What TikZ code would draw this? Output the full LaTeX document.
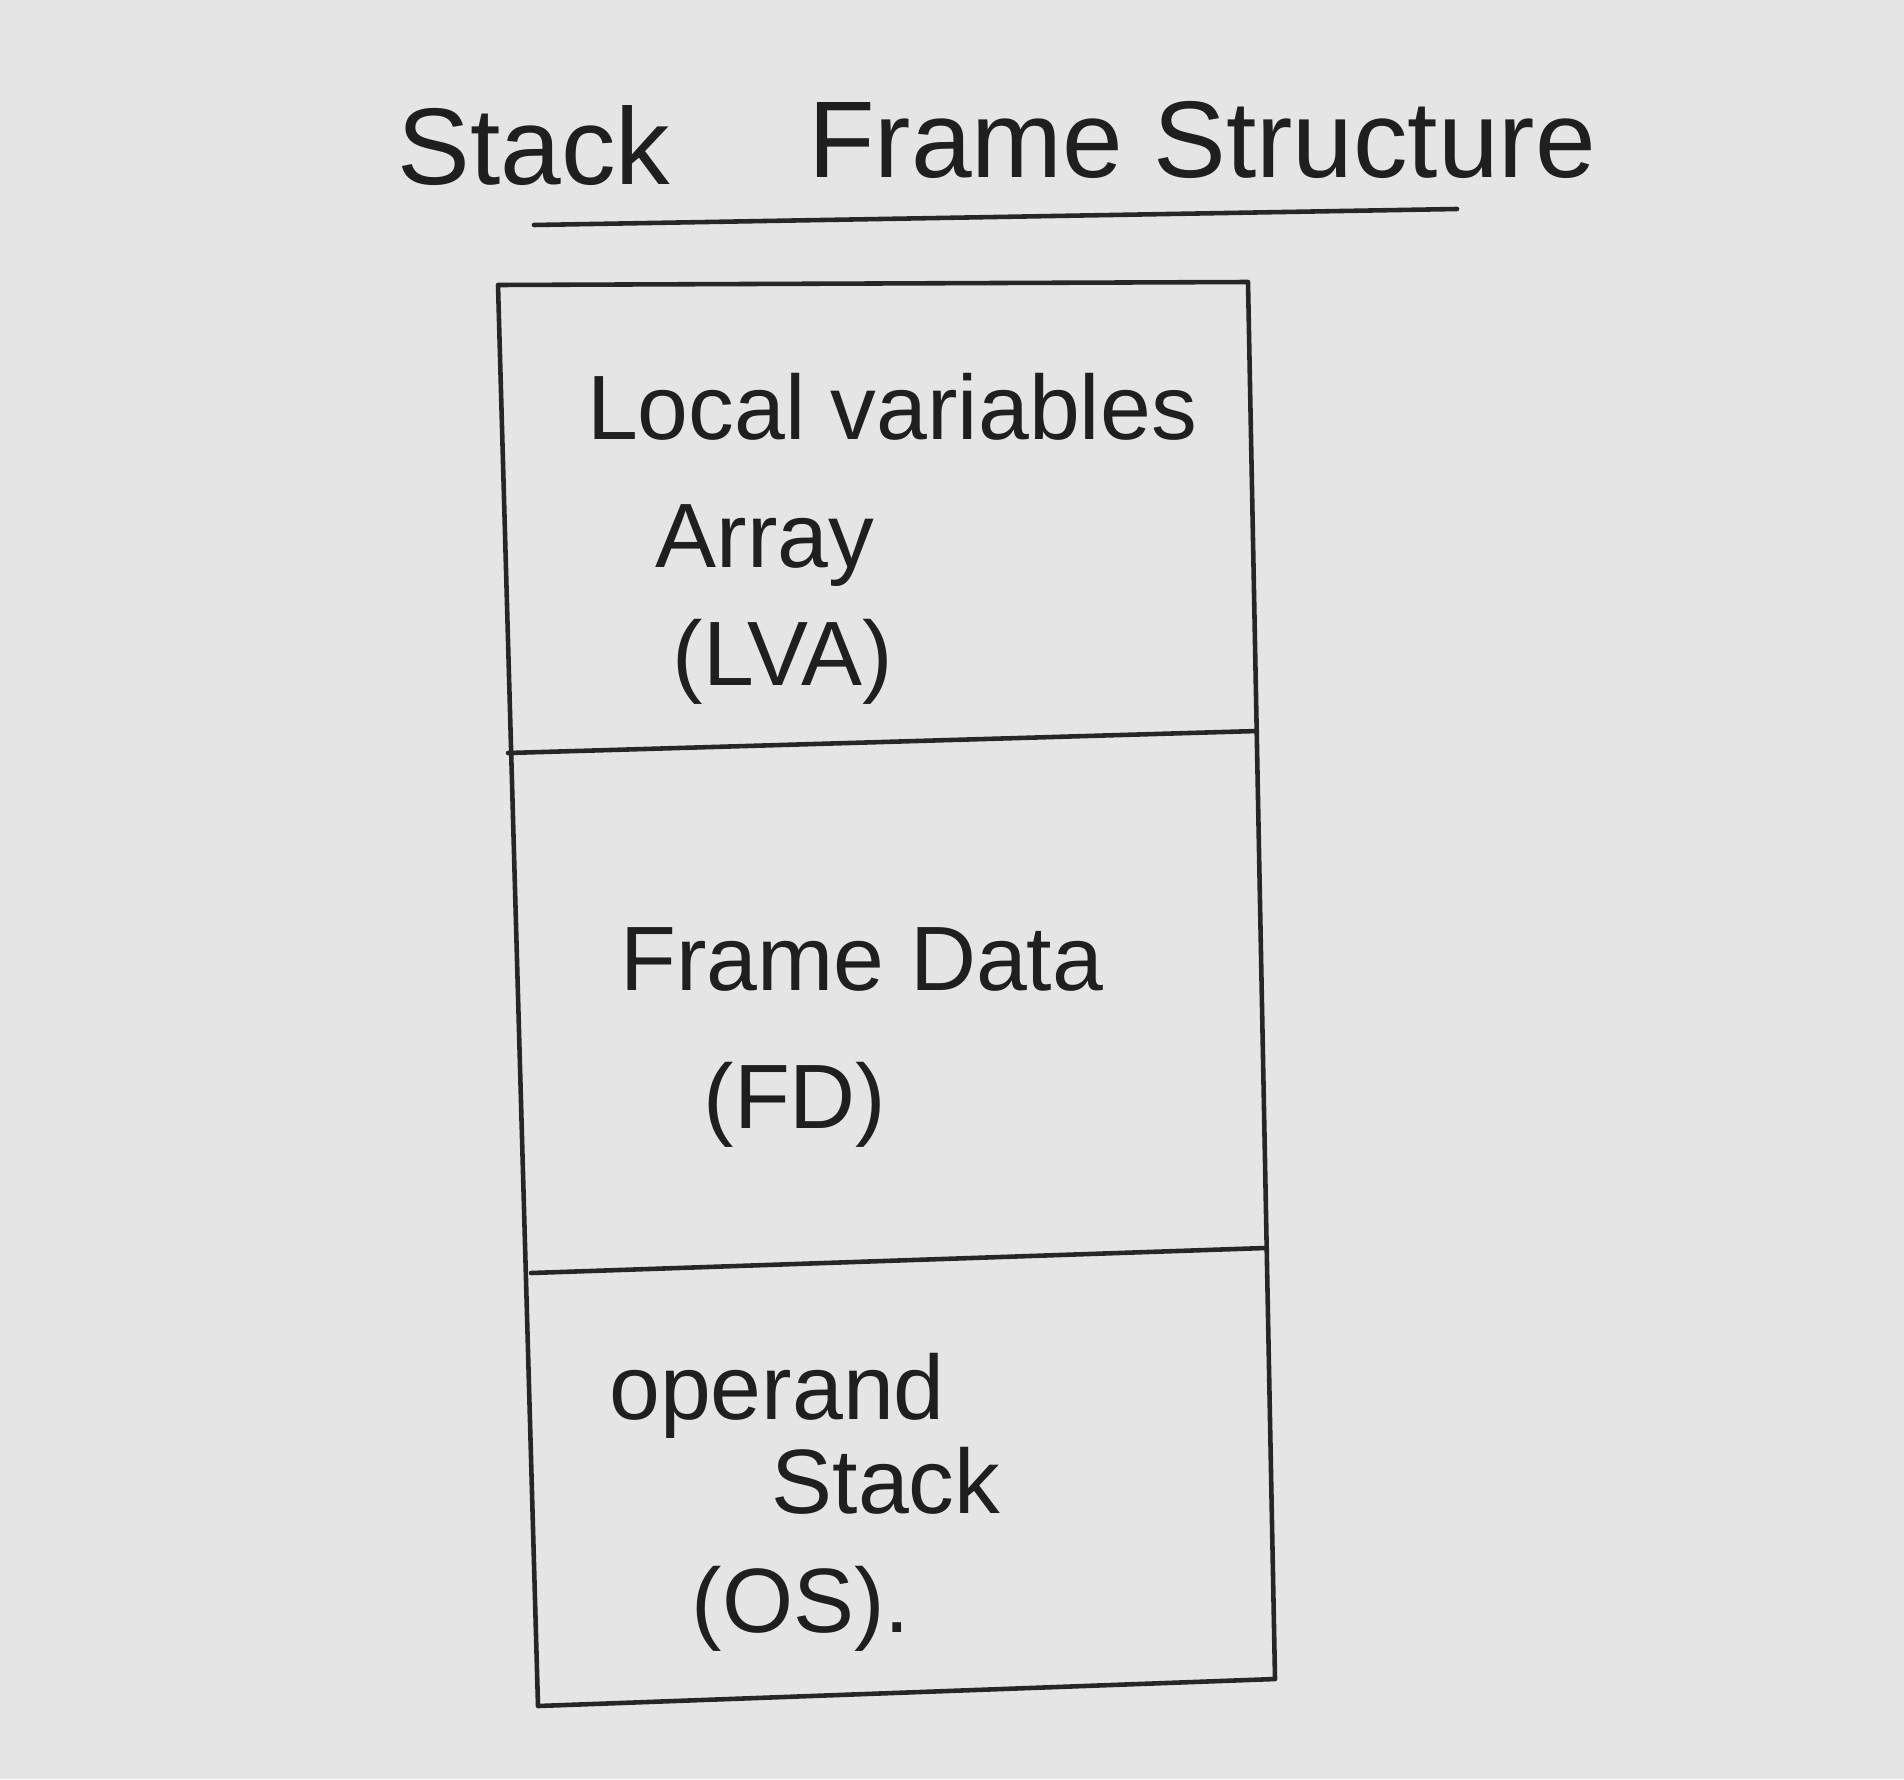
\documentclass[tikz,border=0pt]{standalone}
\usepackage{fontspec}
\setmainfont{Liberation Sans}
\begin{document}
\begin{tikzpicture}[x=0.01cm,y=-0.01cm,
  lbl/.style={font=\fontsize{26}{30}\selectfont, inner sep=0pt, text=black!88},
  ttl/.style={font=\fontsize{31}{36}\selectfont, inner sep=0pt, text=black!88},
  edgeline/.style={line width=1.3pt, line join=round, line cap=round, draw=black!85}]
\fill[black!10] (0,0) rectangle (1904,1779);
\useasboundingbox (0,0) rectangle (1904,1779);
% title
\node[ttl] (t1) at (534,146) {Stack};
\node[ttl] (t2) at (1202,140) {Frame Structure};
\coordinate (ula) at (534,225);
\coordinate (ulb) at (1457,209);
\draw[edgeline] (ula) -- (ulb);
% box corners
\coordinate (tl) at (498,285);
\coordinate (tr) at (1248,282);
\coordinate (m1l) at (508,753);
\coordinate (m1r) at (1257,731);
\coordinate (m2l) at (531,1273);
\coordinate (m2r) at (1265,1248);
\coordinate (bl) at (538,1706);
\coordinate (br) at (1275,1679);
\draw[edgeline] (tl) -- (tr) -- (br) -- (bl) -- cycle;
\draw[edgeline] (m1l) -- (m1r);
\draw[edgeline] (m2l) -- (m2r);
% texts
\node[lbl] (lv) at (892,407) {Local variables};
\node[lbl] (ar) at (765,546) {Array};
\node[lbl] (lva) at (783,662) {(LVA)};
\node[lbl] (fd) at (862,959) {Frame Data};
\node[lbl] (fdc) at (795,1105) {(FD)};
\node[lbl] (op) at (777,1396) {operand};
\node[lbl] (st) at (886,1481) {Stack};
\node[lbl] (os) at (801,1609) {(OS).};
\end{tikzpicture}
\end{document}
